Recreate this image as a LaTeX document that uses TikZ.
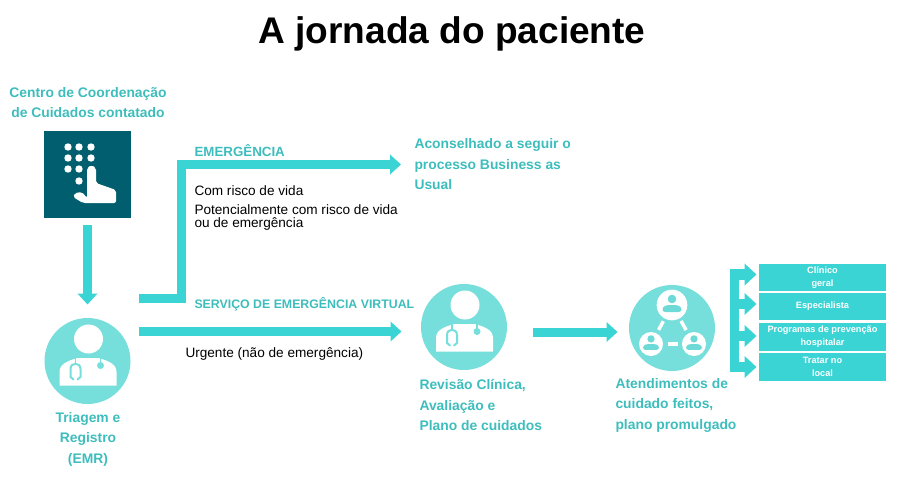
\documentclass[tikz,border=0pt]{standalone}
\usepackage{fontspec}
\setmainfont{Liberation Sans}
\usetikzlibrary{arrows.meta}

\definecolor{tealtitle}{RGB}{62,189,189}
\definecolor{tealarrow}{RGB}{58,212,212}
\definecolor{tealdisc}{RGB}{118,223,220}
\definecolor{tealdark}{RGB}{0,94,110}

\tikzset{every picture/.style={line width=0.75pt},
  tealtext/.style={inner sep=0pt,align=left,text=tealtitle,font=\fontsize{10.4}{15.4}\selectfont\bfseries},
  tealmid/.style={tealtext,align=center},
  darktext/.style={inner sep=0pt,align=left,font=\fontsize{10.2}{9.2}\selectfont},
  fatarrow/.style={draw=tealarrow,line width=6.75pt,-{Triangle[length=8.25pt,width=14.5pt]}},
  fatbranch/.style={draw=tealarrow,line width=8pt,-{Triangle[length=9pt,width=16pt]}},
  fatbar/.style={draw=tealarrow,line width=6.75pt},
  disc/.style={circle,fill=tealdisc,minimum size=64.5pt,inner sep=0pt},
  carebox/.style={fill=tealarrow,minimum width=95.25pt,inner sep=0pt,align=center,text=white,font=\fontsize{6.9}{9.75}\selectfont\bfseries},
  peerbase/.style={circle,fill=white,inner sep=0pt},
  peerlink/.style={white,line width=2.6pt},
  doctor/.pic={
    \fill[white] (1,-22) circle (14.5);
    \fill[white] (-28,24.5) -- (-28,11) .. controls (-28,3) and (-20,0) .. (-10,-3) -- (11,-3) .. controls (21,0) and (29,3) .. (29,11) -- (29,24.5) -- cycle;
    \draw[tealdisc,line width=1.5pt,line cap=round] (-14,18.5) -- (-17,16) -- (-17,8) .. controls (-17,1) and (-7,1) .. (-7,8) -- (-7,16) -- (-10,18.5);
    \draw[tealdisc,line width=1.3pt] (-12,-3) -- (-12,3);
    \draw[tealdisc,line width=1.1pt] (13,-3) -- (13,4.5);
    \fill[tealdisc] (13,4.5) circle (3.5);
  },
  peer/.pic={
    \fill[tealdisc!85!tealtitle] (0,-6) circle (4.3);
    \fill[tealdisc!85!tealtitle,rounded corners=2pt] (-9.5,7) -- (-9.5,2) -- (-5,0) -- (5,0) -- (9.5,2) -- (9.5,7) -- cycle;
  }}

\begin{document}
\begin{tikzpicture}[x=0.75pt,y=0.75pt,yscale=-1,xscale=1]
	\useasboundingbox (0,0) rectangle (900,482);

	% Text Node
	\node (title) at (452,33.5) [inner sep=0pt,font=\fontsize{27.8}{30}\selectfont\bfseries] {A jornada do paciente};
	% Text Node
	\node (centro) at (88,102.5) [tealmid] {Centro de Coordenação\\de Cuidados contatado};

	%Shape: Keypad
	\node (keypad) at (87.5,174) [fill=tealdark,minimum size=65.25pt,inner sep=0pt] {};
	\foreach \px/\py in {68/147,79/147,91/147,68/158,79/158,91/158,68/169,79/169,79/181}
		\fill[white] (\px,\py) circle (3.7);
	\fill[white,rounded corners=1.5pt] (87,198) -- (87,168) -- (91.5,165) -- (96,168) -- (96,183) -- (116,190) -- (116,203) -- (83,203) -- (73,197) -- (75,193) -- (82,192) -- cycle;

	%Shape: Circle
	\node (triagem) at (87.5,361) [disc] {};
	\node (revisao) at (464,327) [disc] {};
	\node (atendimentos) at (672,328) [disc] {};
	\pic[transform shape] at (triagem) {doctor};
	\pic[transform shape] at (revisao) {doctor};

	%Shape: Care team
	\node (peertop) at (672,305) [peerbase,minimum size=23pt] {};
	\node (peerleft) at (651,344) [peerbase,minimum size=18pt] {};
	\node (peerright) at (694,344) [peerbase,minimum size=18pt] {};
	\pic[transform shape] at (peertop) {peer};
	\pic[transform shape,scale=0.85] at (peerleft) {peer};
	\pic[transform shape,scale=0.85] at (peerright) {peer};
	\draw[peerlink,shorten <=13.8pt,shorten >=12pt] (peertop.center) -- (peerleft.center);
	\draw[peerlink,shorten <=13.8pt,shorten >=12pt] (peertop.center) -- (peerright.center);
	\draw[peerlink,shorten <=12.5pt,shorten >=12pt] (peerleft.center) -- (peerright.center);

	%Straight Lines
	\coordinate (forkstart) at (139,298.5);
	\coordinate (forkcorner) at (181.5,298.5);
	\coordinate (forktop) at (181.5,164.5);
	\coordinate (forkend) at (401,164.5);
	\coordinate (virtualstart) at (139,331.5);
	\coordinate (planstart) at (533,332);
	\draw[fatarrow,shorten <=5.25pt,shorten >=9.75pt] (keypad.south) -- (triagem.north);
	\draw[fatarrow,line join=miter] (forkstart) -- (forkcorner) -- (forktop) -- (forkend);
	\draw[fatarrow,shorten >=14.25pt] (virtualstart) -- (virtualstart -| revisao.west);
	\draw[fatarrow,shorten >=8.25pt] (planstart) -- (planstart -| atendimentos.west);

	%Shape: Care boxes
	\node (clinico) at (822.5,277.5) [carebox,minimum height=20.25pt] {Clínico\\geral};
	\node (especialista) at (822.5,306.5) [carebox,minimum height=20.25pt] {Especialista};
	\node (programas) at (822.5,337) [carebox,minimum height=21pt] {Programas de prevenção\\hospitalar};
	\node (tratar) at (822.5,367) [carebox,minimum height=21pt] {Tratar no\\local};

	%Straight Lines
	\coordinate (trunktop) at (734.5,269.5);
	\coordinate (trunkbottom) at (734.5,372);
	\coordinate (branchclinico) at (730,274.5);
	\coordinate (branchespecialista) at (730,304);
	\coordinate (branchprogramas) at (730,336);
	\coordinate (branchtratar) at (730,367);
	\draw[fatbar] (trunktop) -- (trunkbottom);
	\foreach \branchname/\boxname in {branchclinico/clinico,branchespecialista/especialista,branchprogramas/programas,branchtratar/tratar}
		\draw[fatbranch,shorten >=1.5pt] (\branchname) -- (\branchname -| \boxname.west);

	% Text Node
	\node (emergencia) at (194,151) [tealtext,anchor=west,font=\fontsize{10}{12}\selectfont\bfseries] {EMERGÊNCIA};
	% Text Node
	\node (risco) at (194,190.5) [darktext,anchor=west] {Com risco de vida};
	% Text Node
	\node (potencial) at (194,217.5) [darktext,anchor=west] {Potencialmente com risco de vida\\ou de emergência};
	% Text Node
	\node (aconselhado) at (414,164.5) [tealtext,anchor=west] {Aconselhado a seguir o\\processo Business as\\Usual};
	% Text Node
	\node (virtual) at (194,304) [tealtext,anchor=west,font=\fontsize{9.25}{12}\selectfont\bfseries] {SERVIÇO DE EMERGÊNCIA VIRTUAL};
	% Text Node
	\node (urgente) at (185,353.5) [darktext,anchor=west] {Urgente (não de emergência)};
	% Text Node
	\node (triagemtext) at (88,439) [tealmid] {Triagem e\\Registro\\(EMR)};
	% Text Node
	\node (revisaotext) at (419,405) [tealtext,anchor=west] {Revisão Clínica,\\Avaliação e\\Plano de cuidados};
	% Text Node
	\node (atendimentostext) at (615,405) [tealtext,anchor=west] {Atendimentos de\\cuidado feitos,\\plano promulgado};
\end{tikzpicture}
\end{document}
